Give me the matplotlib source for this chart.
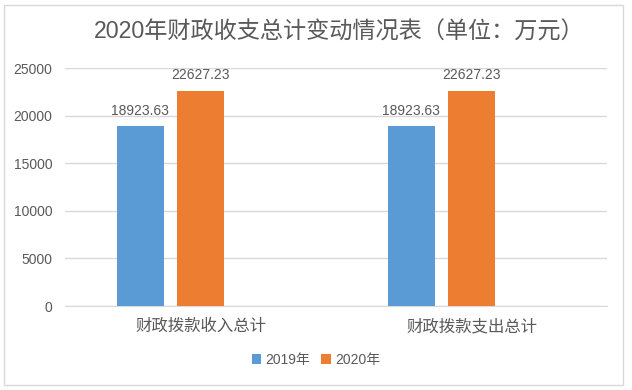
import matplotlib
matplotlib.use("Agg")
import matplotlib.pyplot as plt
import numpy as np
from matplotlib.patches import Rectangle

plt.rcParams['font.family'] = ['Liberation Sans', 'Noto Sans CJK SC', 'DejaVu Sans']

title = "2020年财政收支总计变动情况表（单位：万元）"
categories = ["财政拨款收入总计", "财政拨款支出总计"]
series_names = ["2019年", "2020年"]
values_2019 = [18923.63, 18923.63]
values_2020 = [22627.23, 22627.23]
colors = ["#5B9BD5", "#ED7D31"]
yticks = [0, 5000, 10000, 15000, 20000, 25000]

W, H = 632, 390
fig = plt.figure(figsize=(W/100, H/100), dpi=100)
fig.patch.set_facecolor("white")
fig.add_artist(Rectangle((4/W, 1-385/H), 619/W, 380/H, transform=fig.transFigure,
                         fill=False, edgecolor="#D9D9D9", linewidth=1))

ax = fig.add_axes([65/W, 1-306/H, (607-65)/W, (306-68)/H])
x = np.arange(len(categories))
bw = 0.1745
stride = 0.222
offsets = [-stride, 0.0]
text_color = "#595959"
for vals, off, c, name in zip([values_2019, values_2020], offsets, colors, series_names):
    bars = ax.bar(x + off, vals, width=bw, color=c, label=name, zorder=3)
    for b, v in zip(bars, vals):
        ax.annotate(f"{v:.2f}", (b.get_x()+b.get_width()/2, v), xytext=(0, 6),
                    textcoords="offset points", ha="center", va="bottom",
                    fontsize=10, color=text_color)

ax.set_xlim(-0.5, len(categories)-0.5)
ax.set_ylim(0, 25000)
ax.set_yticks(yticks)
ax.set_yticklabels([str(t) for t in yticks])
ax.set_xticks(x)
ax.set_xticklabels(categories, fontsize=11.8)
ax.grid(axis='y', color="#D9D9D9", linewidth=1, zorder=0)
for s in ["top", "right", "left"]:
    ax.spines[s].set_visible(False)
ax.spines["bottom"].set_color("#D9D9D9")
ax.tick_params(axis='both', length=0, colors=text_color)
ax.tick_params(axis='y', labelsize=10, pad=9)
ax.tick_params(axis='x', pad=9)

fig.text(339/W, 1-32/H, title, ha="center", va="center", fontsize=16.7, color=text_color)

leg = fig.legend(loc="center", bbox_to_anchor=(316/W, 1-360/H), ncol=2, frameon=False,
                 fontsize=10, handlelength=0.7, handleheight=0.7, handletextpad=0.3,
                 columnspacing=0.8, labelcolor=text_color)

fig.savefig("out.png", dpi=100, facecolor="white")
